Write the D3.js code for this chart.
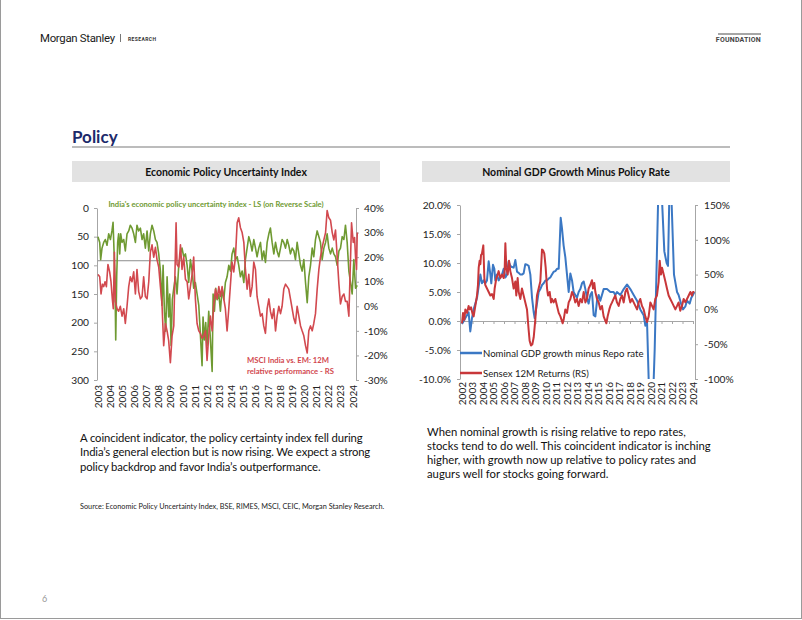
<!DOCTYPE html>
<html><head><meta charset="utf-8">
<script src="https://cdn.jsdelivr.net/npm/d3@7"></script>
<style>
body{margin:0;background:#fff;}
svg{display:block;font-family:Lato,"Open Sans",sans-serif;}
</style></head><body>
<svg id="c" width="802" height="620"></svg>
<script>
// ---------- DATA ----------
const epuIndex = [[2003.00,50],[2003.14,60],[2003.22,90],[2003.33,70],[2003.47,60],[2003.60,55],[2003.74,65],[2003.88,45],[2004.02,55],[2004.15,40],[2004.24,25],[2004.32,75],[2004.40,130],[2004.46,230],[2004.54,120],[2004.62,60],[2004.70,45],[2004.79,80],[2004.87,45],[2004.98,60],[2005.12,55],[2005.25,75],[2005.39,45],[2005.53,40],[2005.66,30],[2005.80,35],[2005.94,45],[2006.08,60],[2006.21,30],[2006.35,40],[2006.49,35],[2006.63,55],[2006.76,45],[2006.90,70],[2007.04,40],[2007.18,75],[2007.31,45],[2007.45,30],[2007.59,40],[2007.73,55],[2007.86,60],[2008.00,80],[2008.14,110],[2008.27,170],[2008.36,100],[2008.47,180],[2008.58,215],[2008.69,120],[2008.82,190],[2008.91,150],[2009.02,240],[2009.12,160],[2009.24,140],[2009.37,120],[2009.51,150],[2009.65,100],[2009.79,80],[2009.92,70],[2010.06,85],[2010.20,80],[2010.34,100],[2010.47,130],[2010.61,90],[2010.75,110],[2010.88,140],[2011.02,130],[2011.16,150],[2011.30,170],[2011.43,220],[2011.57,275],[2011.65,190],[2011.76,230],[2011.87,200],[2011.98,240],[2012.12,180],[2012.26,230],[2012.40,285],[2012.48,150],[2012.59,180],[2012.70,140],[2012.81,160],[2012.95,150],[2013.08,180],[2013.22,140],[2013.36,160],[2013.49,130],[2013.63,120],[2013.77,100],[2013.91,110],[2014.04,80],[2014.18,70],[2014.32,90],[2014.46,85],[2014.59,100],[2014.73,120],[2014.87,110],[2015.01,130],[2015.14,90],[2015.28,70],[2015.42,50],[2015.55,60],[2015.69,75],[2015.83,55],[2015.97,70],[2016.10,85],[2016.24,70],[2016.38,60],[2016.52,90],[2016.65,75],[2016.79,95],[2016.93,60],[2017.07,45],[2017.20,35],[2017.34,60],[2017.48,80],[2017.62,60],[2017.75,75],[2017.89,85],[2018.03,70],[2018.16,55],[2018.30,60],[2018.44,70],[2018.58,55],[2018.71,65],[2018.85,80],[2018.99,70],[2019.13,75],[2019.26,90],[2019.40,60],[2019.54,80],[2019.68,100],[2019.81,110],[2019.95,90],[2020.09,130],[2020.23,165],[2020.36,120],[2020.50,100],[2020.64,70],[2020.77,85],[2020.91,55],[2021.05,40],[2021.19,50],[2021.32,60],[2021.46,90],[2021.60,70],[2021.74,60],[2021.87,45],[2022.01,70],[2022.15,80],[2022.29,70],[2022.42,80],[2022.56,85],[2022.70,100],[2022.84,75],[2022.97,70],[2023.11,50],[2023.25,55],[2023.38,30],[2023.52,60],[2023.66,110],[2023.80,130],[2023.93,150],[2024.07,90],[2024.21,140],[2024.35,135]];

const msciRelPerf = [[2003.00,13],[2003.14,12],[2003.25,5],[2003.36,9],[2003.47,8],[2003.58,10],[2003.69,8],[2003.82,17],[2003.96,14],[2004.07,10],[2004.18,3],[2004.26,-1],[2004.35,22],[2004.43,2],[2004.57,-1],[2004.70,-2],[2004.84,0],[2004.98,-4],[2005.12,-1],[2005.25,-7],[2005.39,0],[2005.53,8],[2005.66,12],[2005.80,10],[2005.94,14],[2006.08,5],[2006.21,15],[2006.35,6],[2006.49,3],[2006.63,4],[2006.76,12],[2006.90,4],[2007.04,3],[2007.18,10],[2007.31,22],[2007.45,25],[2007.59,20],[2007.73,24],[2007.86,19],[2008.00,16],[2008.14,8],[2008.27,1],[2008.41,-16],[2008.55,-7],[2008.69,-10],[2008.82,-14],[2008.96,-23],[2009.10,-12],[2009.24,-8],[2009.43,34],[2009.51,17],[2009.65,16],[2009.79,25],[2009.92,15],[2010.06,20],[2010.20,11],[2010.34,10],[2010.47,3],[2010.61,8],[2010.75,13],[2010.88,20],[2011.02,3],[2011.16,-7],[2011.30,-10],[2011.43,-11],[2011.57,-13],[2011.71,-12],[2011.85,-10],[2011.98,-22],[2012.12,-12],[2012.26,-4],[2012.40,-10],[2012.53,0],[2012.67,7],[2012.81,3],[2012.95,8],[2013.08,4],[2013.22,8],[2013.36,3],[2013.49,-1],[2013.63,-10],[2013.77,-1],[2013.91,9],[2014.04,18],[2014.18,14],[2014.32,20],[2014.46,34],[2014.59,36],[2014.73,32],[2014.87,30],[2015.01,26],[2015.14,15],[2015.28,7],[2015.42,13],[2015.55,4],[2015.69,8],[2015.83,18],[2015.97,15],[2016.10,4],[2016.24,0],[2016.38,-4],[2016.52,-3],[2016.65,-8],[2016.79,-11],[2016.93,-1],[2017.07,3],[2017.20,-2],[2017.34,-5],[2017.48,-1],[2017.62,-10],[2017.75,-4],[2017.89,0],[2018.03,-3],[2018.16,0],[2018.30,7],[2018.44,9],[2018.58,8],[2018.71,7],[2018.85,3],[2018.99,-1],[2019.13,-5],[2019.26,-7],[2019.40,0],[2019.54,-4],[2019.68,-8],[2019.81,-10],[2019.95,-12],[2020.09,-16],[2020.23,-19],[2020.36,-10],[2020.50,-8],[2020.64,-10],[2020.77,-7],[2020.91,-3],[2021.05,7],[2021.19,15],[2021.32,20],[2021.46,24],[2021.60,27],[2021.74,30],[2021.87,39],[2022.01,36],[2022.15,35],[2022.29,30],[2022.42,27],[2022.56,31],[2022.70,20],[2022.84,9],[2022.97,1],[2023.11,4],[2023.25,5],[2023.38,2],[2023.52,2],[2023.66,-4],[2023.80,20],[2023.88,34],[2024.02,26],[2024.13,28],[2024.21,20],[2024.29,15],[2024.35,30]];

const gdpMinusRepo = [[2002.00,-0.5],[2002.32,0.5],[2002.63,1.5],[2002.79,-1.8],[2002.95,0.5],[2003.11,2],[2003.27,3],[2003.43,4],[2003.59,6],[2003.75,8],[2003.90,6.5],[2004.06,7],[2004.22,6.5],[2004.38,7],[2004.54,10.3],[2004.70,8],[2004.79,6.5],[2004.95,9.7],[2005.08,9],[2005.17,7],[2005.33,8],[2005.49,7],[2005.65,7.5],[2005.81,8],[2005.97,9],[2006.13,7.5],[2006.29,8],[2006.44,10.3],[2006.60,9.5],[2006.76,9.3],[2006.92,9.2],[2007.08,10.5],[2007.24,8.5],[2007.40,8.3],[2007.56,8],[2007.71,8],[2007.87,8.2],[2008.03,9.8],[2008.19,9.7],[2008.35,9.5],[2008.51,8],[2008.67,4],[2008.83,1.5],[2008.92,0.5],[2009.14,3],[2009.30,5],[2009.46,5.5],[2009.62,6.2],[2009.78,6.5],[2009.94,7],[2010.10,7],[2010.25,7.3],[2010.41,7.5],[2010.57,8],[2010.73,8.5],[2010.89,8.6],[2011.05,9],[2011.21,9],[2011.40,17.8],[2011.52,16],[2011.68,13],[2011.84,11],[2012.00,8],[2012.16,5],[2012.32,8.2],[2012.48,7],[2012.63,5],[2012.79,4.5],[2012.95,4],[2013.11,5],[2013.27,5.5],[2013.43,6.5],[2013.59,6.8],[2013.75,5.5],[2013.90,4],[2014.06,3],[2014.22,4.5],[2014.38,5],[2014.54,1],[2014.70,0.8],[2014.86,3.5],[2015.02,4.5],[2015.17,3.5],[2015.49,5.5],[2015.81,5.5],[2016.13,5],[2016.44,5],[2016.60,4.5],[2016.76,5],[2017.08,4.5],[2017.40,5.5],[2017.71,6.3],[2018.03,5.5],[2018.35,4.5],[2018.67,3.5],[2018.98,2],[2019.30,1],[2019.46,-0.8],[2019.62,0],[2020.00,-24],[2020.35,-5],[2020.86,35],[2021.02,22],[2021.27,12],[2021.49,10],[2021.62,9.5],[2021.75,22],[2021.84,30],[2021.97,20],[2022.19,8],[2022.48,5],[2022.63,4.5],[2022.86,3],[2023.05,2],[2023.27,2.5],[2023.43,3.5],[2023.68,3],[2023.84,4],[2024.00,4.5],[2024.13,5]];

const sensex12m = [[2002.00,-20],[2002.10,-5],[2002.22,-15],[2002.32,0],[2002.48,-5],[2002.63,5],[2002.73,0],[2002.86,3],[2002.98,-5],[2003.11,-10],[2003.27,5],[2003.43,20],[2003.52,35],[2003.59,60],[2003.68,70],[2003.75,65],[2003.81,78],[2003.90,80],[2004.03,92],[2004.13,45],[2004.22,35],[2004.38,30],[2004.54,25],[2004.70,20],[2004.86,22],[2005.02,15],[2005.11,30],[2005.27,45],[2005.40,50],[2005.49,55],[2005.65,45],[2005.81,50],[2005.97,45],[2006.06,55],[2006.13,95],[2006.22,60],[2006.35,50],[2006.48,70],[2006.60,55],[2006.76,45],[2006.92,30],[2007.08,40],[2007.17,20],[2007.30,45],[2007.40,25],[2007.56,15],[2007.71,30],[2007.87,20],[2008.03,10],[2008.19,0],[2008.35,-30],[2008.44,-45],[2008.57,-52],[2008.70,-50],[2008.83,-40],[2008.98,-15],[2009.14,20],[2009.30,30],[2009.46,40],[2009.62,86],[2009.71,85],[2009.84,80],[2009.97,60],[2010.10,30],[2010.19,20],[2010.35,25],[2010.48,10],[2010.57,15],[2010.73,10],[2010.89,15],[2011.05,5],[2011.21,-5],[2011.37,-10],[2011.59,-20],[2011.68,-15],[2011.84,0],[2012.00,-5],[2012.16,10],[2012.32,15],[2012.48,25],[2012.63,20],[2012.79,10],[2012.95,15],[2013.11,5],[2013.27,15],[2013.43,10],[2013.59,25],[2013.75,10],[2013.90,15],[2014.06,30],[2014.22,35],[2014.38,42],[2014.48,30],[2014.60,38],[2014.70,25],[2014.86,15],[2015.02,10],[2015.17,0],[2015.33,5],[2015.49,-10],[2015.75,-20],[2015.87,-10],[2016.03,0],[2016.13,5],[2016.29,10],[2016.44,15],[2016.60,20],[2016.76,10],[2016.92,5],[2017.08,15],[2017.24,20],[2017.40,10],[2017.56,25],[2017.71,30],[2017.87,20],[2018.03,10],[2018.19,15],[2018.35,10],[2018.51,5],[2018.67,0],[2018.83,10],[2018.98,15],[2019.14,5],[2019.30,0],[2019.46,-10],[2019.62,-18],[2019.78,-10],[2019.94,10],[2020.10,5],[2020.25,0],[2020.41,15],[2020.57,20],[2020.73,40],[2020.83,70],[2020.95,50],[2021.05,60],[2021.21,50],[2021.37,40],[2021.52,30],[2021.68,20],[2021.84,15],[2022.00,10],[2022.16,5],[2022.32,0],[2022.48,5],[2022.63,10],[2022.79,-2],[2022.95,5],[2023.11,15],[2023.27,10],[2023.43,15],[2023.59,20],[2023.75,25],[2023.90,20],[2024.00,25],[2024.13,25]];

const epuTicks = [0,50,100,150,200,250,300];
const relTicks = [40,30,20,10,0,-10,-20,-30];
const gdpTicks = [20,15,10,5,0,-5,-10];
const sensexTicks = [150,100,50,0,-50,-100];
const yearsLeft = [2003,2004,2005,2006,2007,2008,2009,2010,2011,2012,2013,2014,2015,2016,2017,2018,2019,2020,2021,2022,2023,2024];
const yearsRight = [2002,2003,2004,2005,2006,2007,2008,2009,2010,2011,2012,2013,2014,2015,2016,2017,2018,2019,2020,2021,2022,2023,2024];
const epuRefLevel = 92;

// ---------- STYLE ----------
const GREEN = "#6f9a32", RED1 = "#d2494f", BLUE = "#3b78c4", RED2 = "#c8373a";
const AXIS = "#a6a6a6";
const svg = d3.select("#c");

// page frame
svg.append("line").attr("x1",0.5).attr("x2",0.5).attr("y1",0).attr("y2",618.5).attr("stroke","#9a9a9a");
svg.append("line").attr("x1",801.5).attr("x2",801.5).attr("y1",0).attr("y2",618.5).attr("stroke","#9a9a9a");
svg.append("line").attr("x1",0).attr("x2",802).attr("y1",618.5).attr("y2",618.5).attr("stroke","#9a9a9a");

// header
svg.append("text").attr("x",40).attr("y",42).attr("font-family","Roboto").attr("font-size",11.4).attr("letter-spacing",-0.3).attr("fill","#1a1a1a").text("Morgan Stanley");
svg.append("line").attr("x1",120.5).attr("x2",120.5).attr("y1",34).attr("y2",42).attr("stroke","#777");
svg.append("text").attr("x",128).attr("y",41).attr("font-family","Roboto").attr("font-size",5).attr("font-weight","bold").attr("letter-spacing",0.4).attr("fill","#333").text("RESEARCH");
svg.append("line").attr("x1",718).attr("x2",761).attr("y1",34).attr("y2",34).attr("stroke","#888").attr("stroke-width",1.5);
svg.append("text").attr("x",761).attr("y",42).attr("text-anchor","end").attr("font-family","Roboto").attr("font-size",7).attr("font-weight","bold").attr("letter-spacing",0.2).attr("fill","#444").text("FOUNDATION");

// section title
svg.append("text").attr("x",72).attr("y",143).attr("font-size",17).attr("font-weight","bold").attr("fill","#1c2a6b").text("Policy");
svg.append("line").attr("x1",72).attr("x2",730).attr("y1",147).attr("y2",147).attr("stroke","#a6a6a6").attr("stroke-width",1.5);

// chart title boxes
[[72,"Economic Policy Uncertainty Index"],[422,"Nominal GDP Growth Minus Policy Rate"]].forEach(([x0,t])=>{
  svg.append("rect").attr("x",x0).attr("y",161).attr("width",308).attr("height",21).attr("fill","#e2e2e2");
  svg.append("text").attr("x",x0+154).attr("y",175.5).attr("text-anchor","middle").attr("font-size",10.5).attr("font-weight","bold").attr("fill","#111").text(t);
});

function styleAxis(g){
  g.select(".domain").attr("stroke",AXIS);
  g.selectAll(".tick line").attr("stroke",AXIS);
  g.selectAll(".tick text").attr("fill","#222").attr("font-size",10.2).attr("font-family","Lato");
}

// ---------- LEFT CHART ----------
{
  const x = d3.scaleLinear().domain([2003,2024]).range([98,353]);
  const yL = d3.scaleLinear().domain([0,300]).range([208,380]);
  const yR = d3.scaleLinear().domain([-30,40]).range([380,208]);
  const g = svg.append("g");
  g.append("line").attr("x1",97).attr("x2",356).attr("y1",yL(epuRefLevel)).attr("y2",yL(epuRefLevel)).attr("stroke","#8c8c8c").attr("stroke-width",1);
  const gl = g.append("g").attr("transform","translate(97,0)")
    .call(d3.axisLeft(yL).tickValues(epuTicks).tickSize(3).tickSizeOuter(0).tickPadding(5).tickFormat(d3.format("d")));
  styleAxis(gl);
  const gr = g.append("g").attr("transform","translate(356,0)")
    .call(d3.axisRight(yR).tickValues(relTicks).tickSize(3).tickSizeOuter(0).tickPadding(5).tickFormat(d=>d+"%"));
  styleAxis(gr);
  g.append("g").selectAll("text").data(yearsLeft).join("text")
    .attr("transform",d=>`translate(${x(d)},385) rotate(-90)`).attr("text-anchor","end").attr("dy","0.35em")
    .attr("font-size",10).attr("fill","#222").text(d=>d);
  g.append("path").datum(epuIndex).attr("fill","none").attr("stroke",GREEN).attr("stroke-width",1.6).attr("stroke-linejoin","round")
    .attr("d",d3.line().x(d=>x(d[0])).y(d=>yL(d[1])));
  g.append("path").datum(msciRelPerf).attr("fill","none").attr("stroke",RED1).attr("stroke-width",1.6).attr("stroke-linejoin","round")
    .attr("d",d3.line().x(d=>x(d[0])).y(d=>yR(d[1])));
  g.append("text").attr("x",216).attr("y",207).attr("text-anchor","middle").attr("font-size",7.6).attr("font-weight","bold").attr("fill",GREEN)
    .text("India's economic policy uncertainty index - LS (on Reverse Scale)");
  g.append("text").attr("x",247).attr("y",363).attr("font-size",7.7).attr("font-weight","bold").attr("fill",RED1).text("MSCI India vs. EM: 12M");
  g.append("text").attr("x",247).attr("y",373.5).attr("font-size",7.7).attr("font-weight","bold").attr("fill",RED1).text("relative performance - RS");
}

// ---------- RIGHT CHART ----------
{
  const x = d3.scaleLinear().domain([2002,2024]).range([462,693]);
  const yL = d3.scaleLinear().domain([-10,20]).range([379,205]);
  const yR = d3.scaleLinear().domain([-100,150]).range([379,205]);
  const g = svg.append("g");
  svg.append("clipPath").attr("id","clipR").append("rect").attr("x",460).attr("y",205).attr("width",240).attr("height",174);
  const gl = g.append("g").attr("transform","translate(460,0)")
    .call(d3.axisLeft(yL).tickValues(gdpTicks).tickSize(3).tickSizeOuter(0).tickPadding(6).tickFormat(d=>d.toFixed(1)+"%"));
  styleAxis(gl);
  const gr = g.append("g").attr("transform","translate(695,0)")
    .call(d3.axisRight(yR).tickValues(sensexTicks).tickSize(3).tickSizeOuter(0).tickPadding(6).tickFormat(d=>d+"%"));
  styleAxis(gr);
  // zero axis with year ticks
  const gx = g.append("g").attr("transform",`translate(0,${yL(0)})`)
    .call(d3.axisBottom(x).tickValues(yearsRight).tickSize(3).tickSizeOuter(0).tickFormat(""));
  gx.select(".domain").attr("stroke",AXIS);
  gx.selectAll(".tick line").attr("stroke",AXIS);
  g.append("g").selectAll("text").data(yearsRight).join("text")
    .attr("transform",d=>`translate(${x(d)},382) rotate(-90)`).attr("text-anchor","end").attr("dy","0.35em")
    .attr("font-size",10).attr("fill","#222").text(d=>d);
  const pl = g.append("g").attr("clip-path","url(#clipR)");
  pl.append("path").datum(gdpMinusRepo).attr("fill","none").attr("stroke",BLUE).attr("stroke-width",2).attr("stroke-linejoin","round")
    .attr("d",d3.line().x(d=>x(d[0])).y(d=>yL(d[1])));
  pl.append("path").datum(sensex12m).attr("fill","none").attr("stroke",RED2).attr("stroke-width",2).attr("stroke-linejoin","round")
    .attr("d",d3.line().x(d=>x(d[0])).y(d=>yR(d[1])));
  // legend
  [[353,BLUE,"Nominal GDP growth minus Repo rate"],[373,RED2,"Sensex 12M Returns (RS)"]].forEach(([yy,c,t])=>{
    g.append("line").attr("x1",460).attr("x2",482).attr("y1",yy).attr("y2",yy).attr("stroke",c).attr("stroke-width",2.5);
    g.append("text").attr("x",483).attr("y",yy+3.6).attr("font-size",9.6).attr("fill","#1a1a1a").text(t);
  });
}

// ---------- TEXT ----------
const leftPara = ["A coincident indicator, the policy certainty index fell during","India\u2019s general election but is now rising. We expect a strong","policy backdrop and favor India\u2019s outperformance."];
const rightPara = ["When nominal growth is rising relative to repo rates,","stocks tend to do well. This coincident indicator is inching","higher, with growth now up relative to policy rates and","augurs well for stocks going forward."];
leftPara.forEach((t,i)=>svg.append("text").attr("x",80).attr("y",442+i*14.4).attr("font-size",11.3).attr("letter-spacing",-0.12).attr("fill","#111").text(t));
rightPara.forEach((t,i)=>svg.append("text").attr("x",427).attr("y",436+i*13.9).attr("font-size",11.3).attr("fill","#111").text(t));
svg.append("text").attr("x",80).attr("y",509).attr("font-size",7.3).attr("fill","#222").text("Source: Economic Policy Uncertainty Index, BSE, RIMES, MSCI, CEIC, Morgan Stanley Research.");
svg.append("text").attr("x",42).attr("y",602).attr("font-size",9).attr("fill","#999").text("6");
</script>
</body></html>
